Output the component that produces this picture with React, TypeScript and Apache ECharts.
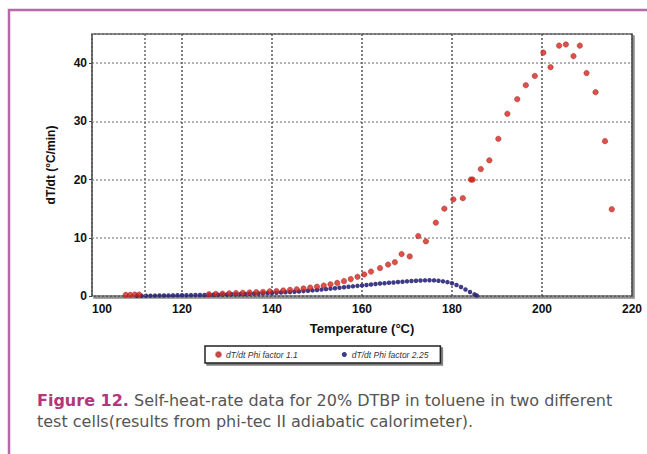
import React, { useEffect, useRef } from "react";
import * as echarts from "echarts";

// Self-heat rate, Phi factor 1.1 test cell: [temperature °C, dT/dt °C/min]
const phi11: [number, number][] = [
  [107.5, 0.2], [108.5, 0.2], [109.5, 0.25], [110.5, 0.25],
  [126, 0.3], [127.5, 0.35], [129, 0.4], [130.5, 0.45], [132, 0.5], [133.5, 0.55],
  [135, 0.6], [136.5, 0.65], [138, 0.7], [139.5, 0.8], [141, 0.85], [142.5, 0.95],
  [144, 1.05], [145.5, 1.15], [147, 1.3], [148.5, 1.45], [150, 1.6], [151.5, 1.8],
  [153, 2.0], [154.5, 2.25], [156, 2.55], [157.5, 2.9], [159, 3.3], [160.5, 3.7],
  [162, 4.2], [164, 4.8], [165.8, 5.4], [167.3, 5.8], [168.8, 7.2], [170.6, 6.8],
  [172.5, 10.3], [174.2, 9.4], [176.4, 12.6], [178.3, 15.0], [180.3, 16.6],
  [182.4, 16.8], [184.2, 20.0], [184.6, 20.0], [186.4, 21.8], [188.3, 23.3],
  [190.3, 27.0], [192.3, 31.3], [194.5, 33.8], [196.4, 36.2], [198.4, 37.8],
  [200.3, 41.8], [201.9, 39.3], [203.8, 43.0], [205.3, 43.2], [207.0, 41.2],
  [208.4, 43.0], [209.9, 38.3], [211.9, 35.0], [214.0, 26.6], [215.5, 14.9],
];

// Self-heat rate, Phi factor 2.25 test cell: [temperature °C, dT/dt °C/min]
const phi225: [number, number][] = [
  [110, 0.05], [111, 0.05], [112, 0.05], [113, 0.06], [114, 0.07], [115, 0.08],
  [116, 0.09], [117, 0.1], [118, 0.11], [119, 0.12], [120, 0.13], [121, 0.14],
  [122, 0.15], [123, 0.16], [124, 0.17], [125, 0.18], [126, 0.2], [127, 0.21],
  [128, 0.23], [129, 0.25], [130, 0.27], [131, 0.29], [132, 0.31], [133, 0.33],
  [134, 0.35], [135, 0.38], [136, 0.4], [137, 0.43], [138, 0.46], [139, 0.49],
  [140, 0.52], [141, 0.56], [142, 0.6], [143, 0.64], [144, 0.68], [145, 0.73],
  [146, 0.78], [147, 0.84], [148, 0.9], [149, 0.96], [150, 1.02], [151, 1.1],
  [152, 1.18], [153, 1.26], [154, 1.34], [155, 1.42], [156, 1.5], [157, 1.58],
  [158, 1.66], [159, 1.74], [160, 1.82], [161, 1.9], [162, 1.98], [163, 2.06],
  [164, 2.14], [165, 2.2], [166, 2.27], [167, 2.33], [168, 2.4], [169, 2.46],
  [170, 2.52], [171, 2.57], [172, 2.62], [173, 2.66], [174, 2.69], [175, 2.7],
  [176, 2.68], [177, 2.62], [178, 2.52], [179, 2.38], [180, 2.18], [181, 1.9],
  [182, 1.55], [183, 1.12], [184, 0.68], [185, 0.28], [185.5, 0.08],
];

const seriesNames = ["dT/dt Phi factor 1.1", "dT/dt Phi factor 2.25"];
const markerTemps = [111.8];

const xAxisTitle = "Temperature (°C)";
const yAxisTitle = "dT/dt (°C/min)";
const captionLead = "Figure 12.";
const captionLine1 = " Self-heat-rate data for 20% DTBP in toluene in two different";
const captionLine2 = "test cells(results from phi-tec II adiabatic calorimeter).";

export default function App() {
  const ref = useRef<HTMLDivElement>(null);

  useEffect(() => {
    document.body.style.margin = "0";
    if (!ref.current) return;
    const chart = echarts.init(ref.current, null, { renderer: "svg" });
    const axisFont = {
      fontFamily: "Liberation Sans, Arial, sans-serif",
      fontWeight: "bold" as const,
      fontSize: 12,
      color: "#111",
    };
    const captionFont = "DejaVu Sans, Open Sans, sans-serif";
    chart.setOption({
      animation: false,
      backgroundColor: "#ffffff",
      grid: {
        left: 92,
        top: 34,
        right: 15,
        bottom: 158,
        show: true,
        backgroundColor: "#ffffff",
        borderColor: "#444",
        borderWidth: 1.5,
        shadowColor: "rgba(0,0,0,0.45)",
        shadowOffsetX: 2,
        shadowOffsetY: 2,
        shadowBlur: 1,
      },
      legend: {
        left: 205,
        top: 346,
        orient: "horizontal",
        data: seriesNames,
        icon: "circle",
        itemWidth: 5,
        itemHeight: 5,
        itemGap: 44,
        padding: [4, 12, 4, 10],
        backgroundColor: "#fff",
        borderColor: "#222",
        borderWidth: 1.5,
        shadowColor: "rgba(0,0,0,0.5)",
        shadowOffsetX: 2,
        shadowOffsetY: 2,
        shadowBlur: 1,
        textStyle: {
          fontFamily: "Liberation Sans, Arial, sans-serif",
          fontSize: 8.5,
          fontStyle: "italic",
          color: "#333",
        },
      },
      xAxis: {
        type: "value",
        min: 100,
        max: 220,
        interval: 20,
        name: xAxisTitle,
        nameLocation: "middle",
        nameGap: 26,
        nameTextStyle: { ...axisFont, fontSize: 13 },
        axisLine: { show: false },
        axisTick: { show: false },
        axisLabel: { ...axisFont, margin: 7, alignMinLabel: "left" },
        splitLine: {
          show: true,
          lineStyle: { color: "#555", type: [2, 2], width: 1.5 },
        },
      },
      yAxis: {
        type: "value",
        min: 0,
        max: 45,
        interval: 10,
        name: yAxisTitle,
        nameLocation: "middle",
        nameGap: 35,
        nameTextStyle: { ...axisFont, fontSize: 12 },
        axisLine: { show: false },
        axisTick: { show: true, length: 3, lineStyle: { color: "#444" } },
        axisLabel: { ...axisFont, margin: 5, showMaxLabel: false },
        splitLine: {
          show: true,
          lineStyle: { color: "#999", type: [2, 2], width: 1.5 },
        },
      },
      series: [
        {
          name: seriesNames[0],
          type: "scatter",
          data: phi11,
          symbol: "circle",
          symbolSize: 5.5,
          itemStyle: {
            color: "#d3261c",
            borderColor: "rgba(150,20,20,0.6)",
            borderWidth: 0.8,
          },
          markLine: {
            silent: true,
            symbol: "none",
            label: { show: false },
            lineStyle: { color: "#666", type: [2, 2], width: 1.5 },
            data: markerTemps.map((t) => ({ xAxis: t })),
          },
          z: 3,
        },
        {
          name: seriesNames[1],
          type: "scatter",
          data: phi225,
          symbol: "circle",
          symbolSize: 4.5,
          itemStyle: { color: "#2a2679", opacity: 0.9 },
          z: 2,
        },
      ],
      graphic: [
        {
          type: "rect",
          shape: { x: 9, y: 10, width: 700, height: 500 },
          style: { fill: "none", stroke: "#b46aa6", lineWidth: 2.5 },
          silent: true,
          z: -10,
        },
        {
          type: "text",
          x: 37,
          y: 400,
          style: {
            text: `{lead|${captionLead}}{body|${captionLine1}}`,
            verticalAlign: "middle",
            rich: {
              lead: {
                fontFamily: captionFont,
                fontSize: 16,
                fontWeight: "bold",
                fill: "#b2367e",
              },
              body: {
                fontFamily: captionFont,
                fontSize: 16,
                fill: "#555555",
              },
            },
          },
        },
        {
          type: "text",
          x: 37,
          y: 421,
          style: {
            text: captionLine2,
            verticalAlign: "middle",
            fontFamily: captionFont,
            fontSize: 16,
            fill: "#555555",
          },
        },
      ],
    });
    return () => chart.dispose();
  }, []);

  return <div ref={ref} style={{ width: 647, height: 454 }} />;
}
